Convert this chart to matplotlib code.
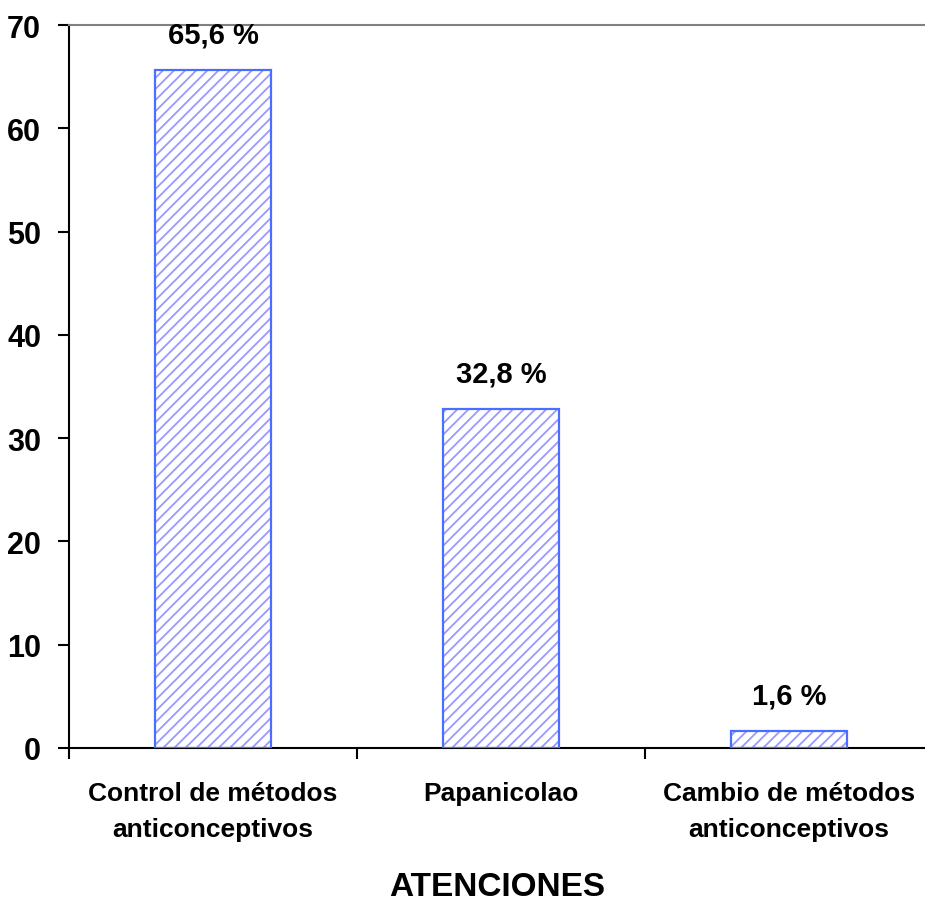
import matplotlib
matplotlib.use("Agg")
import matplotlib.pyplot as plt
from matplotlib import font_manager

categories = ["Control de métodos\nanticonceptivos", "Papanicolao", "Cambio de métodos\nanticonceptivos"]
values = [65.6, 32.8, 1.6]
value_labels = ["65,6 %", "32,8 %", "1,6 %"]
yticks = [0, 10, 20, 30, 40, 50, 60, 70]
xlabel = "ATENCIONES"

names = {f.name for f in font_manager.fontManager.ttflist}
fam = "Liberation Sans Narrow" if "Liberation Sans Narrow" in names else "Liberation Sans"
plt.rcParams['font.family'] = [fam, 'DejaVu Sans']
plt.rcParams['hatch.linewidth'] = 1.3

fig = plt.figure(figsize=(9.25, 9.12), dpi=100)
ax = fig.add_axes([69/925, 163/912, 1 - 69/925, (749-26)/912])

x = list(range(len(categories)))
ax.bar(x, values, width=0.405, color='white', edgecolor='#9999ff', hatch='///', linewidth=0, zorder=2)
ax.bar(x, values, width=0.405, fill=False, edgecolor='#4a6fff', linewidth=1.6, zorder=3)

for xi, v, lab in zip(x, values, value_labels):
    ax.annotate(lab, (xi, v), xytext=(0, 16), textcoords='offset points',
                ha='center', va='bottom', fontsize=21, fontweight='bold')

ax.set_xlim(-0.5, -0.5 + 856/288)
ax.set_ylim(0, 70)
ax.set_yticks(yticks)
ax.set_yticklabels([str(t) for t in yticks], fontsize=22, fontweight='bold')
ax.tick_params(axis='y', length=8, width=1.5, pad=12, direction='out')

ax.set_xticks(x)
ax.set_xticklabels(categories, fontsize=19, fontweight='bold', linespacing=1.6)
ax.tick_params(axis='x', which='major', length=0, pad=24)
ax.set_xticks([-0.5, 0.5, 1.5], minor=True)
ax.tick_params(axis='x', which='minor', length=8, width=1.5, direction='out')

ax.set_xlabel(xlabel, fontsize=24, fontweight='bold', labelpad=22)

ax.spines['right'].set_visible(False)
ax.spines['top'].set_color('#808080')
ax.spines['top'].set_linewidth(1.5)
ax.spines['left'].set_linewidth(1.5)
ax.spines['bottom'].set_linewidth(1.5)

fig.savefig("out.png", dpi=100)
